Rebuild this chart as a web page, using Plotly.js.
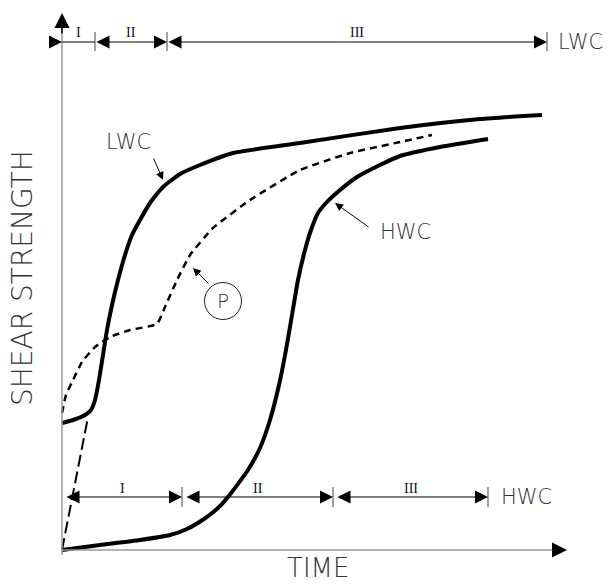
<!DOCTYPE html>
<html><head><meta charset="utf-8">
<script src="https://cdn.plot.ly/plotly-3.0.1.min.js"></script>
<style>html,body{margin:0;padding:0;background:#fff}#chart{width:610px;height:586px}</style>
</head><body><div id="chart"></div>
<script>
// ---- data (time, shear strength; arbitrary units) ----
const lwcTime     = [0, 2.2, 4.6, 5.8, 6.6, 7.4, 8.2, 9, 10, 11.2, 12.6, 14, 15.6, 17.6, 20.2, 23.6, 27.6, 34.2, 47.6, 67.6, 83.6, 96];
const lwcStrength = [25.4, 26, 27, 28, 30, 34, 39, 44, 49, 54, 59, 63, 66, 69.4, 72.6, 75.2, 77, 79.4, 81.4, 84.4, 86.2, 87];

const hwcTime     = [0, 7.6, 15.6, 21.6, 25, 28.4, 31.2, 33.2, 37.2, 39.6, 41.6, 43.4, 44.8, 46, 47.2, 48.6, 49.8, 51.2, 52.8, 55.6, 59, 63.6, 67.6, 75.6, 85.2];
const hwcStrength = [0, 1, 2, 3, 4.2, 6.2, 8.4, 10.6, 16, 20.4, 26, 33, 40, 47, 54, 60, 64, 67.4, 69.4, 72, 74.6, 77, 78.8, 80.6, 82.2];

const pTime       = [0, 0.8, 2.2, 4, 6.6, 9.6, 13.6, 19, 20.6, 23, 25.6, 30.2, 37.6, 47.6, 57.6, 67.6, 74];
const pStrength   = [27.4, 31, 34, 37.6, 40.6, 42.6, 44, 45.2, 48.6, 54, 59, 64.4, 70, 76, 79.4, 81.6, 83];

const initTime     = [0, 5.2];
const initStrength = [0, 26.6];

const lwcStageBounds = [0, 6.6, 21, 97];
const hwcStageBounds = [0, 24, 54.2, 85.2];
const stageLabels    = ['I', 'II', 'III'];

// ---- layout helpers ----
const TXT = '#333';
const SANS = 'DejaVu Sans, sans-serif';
const SERIF = 'Liberation Serif, DejaVu Serif, serif';
const topY = 101.6, botY = 10.6;

const traces = [
  {x: hwcTime, y: hwcStrength, mode: 'lines', line: {color: '#000', width: 4, shape: 'spline', smoothing: 0.5}, hoverinfo: 'skip'},
  {x: lwcTime, y: lwcStrength, mode: 'lines', line: {color: '#000', width: 4, shape: 'spline', smoothing: 0.5}, hoverinfo: 'skip'},
  {x: pTime, y: pStrength, mode: 'lines', line: {color: '#000', width: 2.5, dash: '7px,5px', shape: 'spline', smoothing: 0.4}, hoverinfo: 'skip'},
  {x: initTime, y: initStrength, mode: 'lines', line: {color: '#000', width: 2, dash: '12px,5px'}, hoverinfo: 'skip'}
];

const shapes = [
  // axes (gray)
  {type: 'line', xref: 'x', yref: 'y', x0: 0, y0: -1, x1: 0, y1: 106, line: {color: '#9a9a9a', width: 1.5}},
  {type: 'line', xref: 'x', yref: 'y', x0: 0, y0: 0, x1: 99, y1: 0, line: {color: '#9a9a9a', width: 1.5}},
  // P circle
  {type: 'circle', xref: 'x', yref: 'y', x0: 32.2 - 3.7, x1: 32.2 + 3.7, y0: 49.8 - 3.7, y1: 49.8 + 3.7, line: {color: '#222', width: 1}}
];
lwcStageBounds.slice(1).forEach(b => shapes.push({type: 'line', xref: 'x', yref: 'y', x0: b, x1: b, y0: topY - 1.8, y1: topY + 2, line: {color: '#444', width: 1}}));
hwcStageBounds.slice(1).forEach(b => shapes.push({type: 'line', xref: 'x', yref: 'y', x0: b, x1: b, y0: botY - 2, y1: botY + 2, line: {color: '#444', width: 1}}));

const annotations = [];
function arrow(x0, y0, x1, y1, opts) {
  annotations.push(Object.assign({
    x: x1, y: y1, ax: x0, ay: y0, xref: 'x', yref: 'y', axref: 'x', ayref: 'y',
    text: '', showarrow: true, arrowhead: 2, arrowsize: 2.6, arrowwidth: 1, arrowcolor: '#000',
    standoff: 0, startstandoff: 0
  }, opts || {}));
}
// axis arrowheads
arrow(0, 103, 0, 107.4, {arrowsize: 2, arrowwidth: 1.5});
arrow(98, 0, 101, 0, {arrowsize: 2, arrowwidth: 1.5});

// LWC stage bracket (top)
arrow(-2.8, topY, 0, topY);
shapes.push({type: 'line', xref: 'x', yref: 'y', x0: 0, x1: lwcStageBounds[1], y0: topY, y1: topY, line: {color: '#000', width: 1}});
for (let i = 1; i < 3; i++) arrow(lwcStageBounds[i], topY, lwcStageBounds[i + 1], topY, {arrowside: 'end+start'});
// HWC stage bracket (bottom)
for (let i = 0; i < 3; i++) arrow(hwcStageBounds[i] + 0.6, botY, hwcStageBounds[i + 1], botY, {arrowside: 'end+start'});

// stage numerals
for (let i = 0; i < 3; i++) {
  annotations.push({x: (lwcStageBounds[i] + lwcStageBounds[i + 1]) / 2, y: topY + 2, xref: 'x', yref: 'y', text: stageLabels[i], showarrow: false,
    font: {family: SERIF, size: 14, color: '#111'}});
  annotations.push({x: (hwcStageBounds[i] + hwcStageBounds[i + 1]) / 2, y: botY + 1.8, xref: 'x', yref: 'y', text: stageLabels[i], showarrow: false,
    font: {family: SERIF, size: 14, color: '#111'}});
}
// bracket names
annotations.push({x: lwcStageBounds[3] + 1.8, y: topY, xref: 'x', yref: 'y', text: 'LWC', showarrow: false, xanchor: 'left',
  font: {family: SANS, size: 21, color: TXT, weight: 200}});
annotations.push({x: hwcStageBounds[3] + 2.2, y: botY, xref: 'x', yref: 'y', text: 'HWC', showarrow: false, xanchor: 'left',
  font: {family: SANS, size: 21, color: TXT, weight: 200}});

// curve labels with pointers
annotations.push({x: 13.2, y: 81.6, xref: 'x', yref: 'y', text: 'LWC', showarrow: false, font: {family: SANS, size: 21, color: TXT, weight: 200}});
arrow(18.2, 78.6, 20.2, 74, {arrowsize: 1.6, arrowwidth: 1});
annotations.push({x: 63.2, y: 63.6, xref: 'x', yref: 'y', text: 'HWC', showarrow: false, xanchor: 'left', font: {family: SANS, size: 21, color: TXT, weight: 200}});
arrow(61.6, 64.4, 54.6, 69.4, {arrowsize: 1.6, arrowwidth: 1});
annotations.push({x: 32.2, y: 49.8, xref: 'x', yref: 'y', text: 'P', showarrow: false, font: {family: SANS, size: 20, color: TXT, weight: 200}});
arrow(29.6, 53, 26.2, 56.4, {arrowsize: 1.6, arrowwidth: 1});

// axis titles (placed by pixel, converted to paper coords below)
const L = 22, R = 38, T = 10, B = 26, W = 610, H = 586;
const pw = W - L - R, ph = H - T - B;
annotations.push({x: (22 - L) / pw, y: 1 - (278 - T) / ph, xref: 'paper', yref: 'paper', xanchor: 'center', yanchor: 'middle',
  text: 'SHEAR STRENGTH', showarrow: false, textangle: -90, font: {family: SANS, size: 28, color: TXT, weight: 200}});
annotations.push({x: (318 - L) / pw, y: 1 - (568 - T) / ph, xref: 'paper', yref: 'paper', xanchor: 'center', yanchor: 'middle',
  text: 'TIME', showarrow: false, font: {family: SANS, size: 26, color: TXT, weight: 200}});

const layout = {
  width: W, height: H,
  margin: {l: L, r: R, t: T, b: B, pad: 0},
  paper_bgcolor: '#fff', plot_bgcolor: '#fff',
  showlegend: false,
  xaxis: {range: [-8, 102], visible: false, fixedrange: true},
  yaxis: {range: [-2, 108], visible: false, fixedrange: true},
  shapes: shapes,
  annotations: annotations
};

Plotly.newPlot('chart', traces, layout, {staticPlot: true, displayModeBar: false});
</script>
</body></html>
